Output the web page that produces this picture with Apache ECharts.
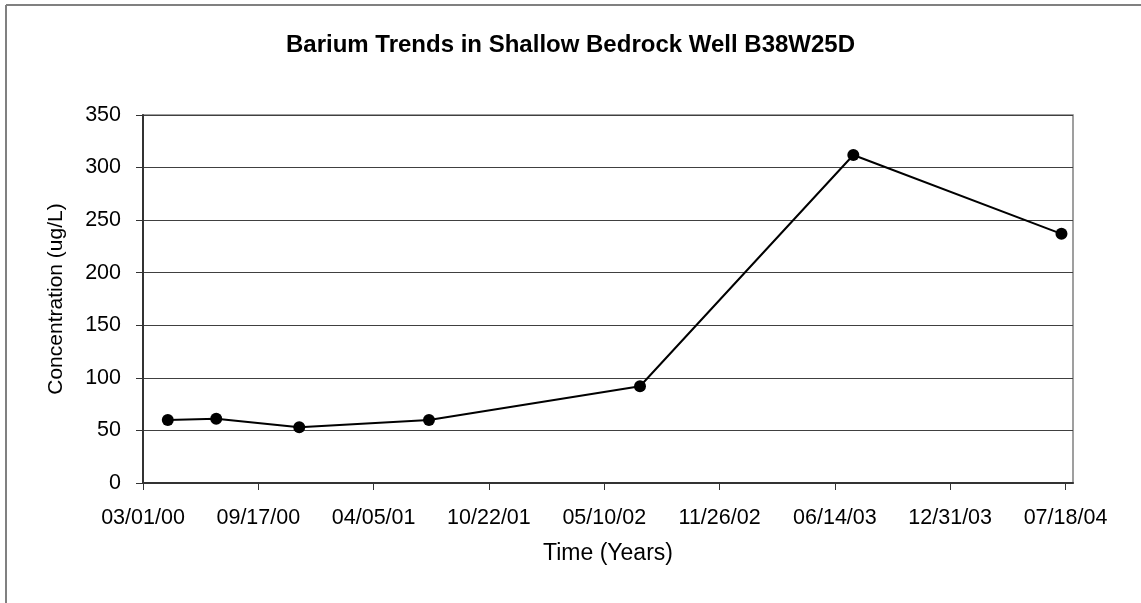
<!DOCTYPE html>
<html>
<head>
<meta charset="utf-8">
<script src="https://cdn.jsdelivr.net/npm/echarts@6/dist/echarts.min.js"></script>
<style>
  html, body { margin: 0; padding: 0; background: #fff; }
  #chart { width: 1141px; height: 603px; }
</style>
</head>
<body>
<div id="chart"></div>
<script>
// 采样日期与钡浓度 (ug/L)
var sampleDates = ['2000-04-13', '2000-07-06', '2000-11-27', '2001-07-10', '2002-07-11', '2003-07-16', '2004-07-11'];
var bariumValues = [60, 61, 53, 60, 92, 312, 237];
// x轴刻度标签（每200天一个）
var xTickLabels = ['03/01/00', '09/17/00', '04/05/01', '10/22/01', '05/10/02', '11/26/02', '06/14/03', '12/31/03', '07/18/04'];
var yMax = 350, yStep = 50;

var DAY = 86400000;
var startMs = Date.UTC(2000, 2, 1);
function toDays(s) {
    var p = s.split('-');
    return Math.round((Date.UTC(+p[0], +p[1] - 1, +p[2]) - startMs) / DAY);
}
var tickStep = 200;
var tickDays = xTickLabels.map(function (l, i) { return i * tickStep; });
var seriesData = sampleDates.map(function (d, i) { return [toDays(d), bariumValues[i]]; });

var font = '"Liberation Sans", Arial, sans-serif';
var dom = document.getElementById('chart');
var myChart = echarts.init(dom);
myChart.setOption({
    animation: false,
    backgroundColor: '#fff',
    title: {
        text: 'Barium Trends in Shallow Bedrock Well B38W25D',
        left: 'center',
        top: 28,
        textStyle: { fontFamily: font, fontSize: 24, fontWeight: 'bold', color: '#000' }
    },
    graphic: [
        { type: 'line', shape: { x1: 6, y1: 5, x2: 1141, y2: 5 }, style: { stroke: '#808080', lineWidth: 2 } },
        { type: 'line', shape: { x1: 6, y1: 5, x2: 6, y2: 603 }, style: { stroke: '#808080', lineWidth: 2 } }
    ],
    grid: {
        left: 143, right: 68, top: 115, bottom: 120,
        show: true,
        borderColor: '#808080',
        borderWidth: 1.5
    },
    xAxis: {
        type: 'value',
        min: 0,
        max: 1613,
        interval: tickStep,
        name: 'Time (Years)',
        nameLocation: 'middle',
        nameGap: 59,
        nameTextStyle: { fontFamily: font, fontSize: 23, color: '#000' },
        axisLine: { show: true, lineStyle: { color: '#333', width: 2 } },
        axisTick: { show: true, inside: false, length: 7, lineStyle: { color: '#333', width: 1 }, customValues: tickDays },
        axisLabel: {
            customValues: tickDays,
            margin: 24,
            fontFamily: font, fontSize: 21.5, color: '#000',
            formatter: function (v) { return xTickLabels[Math.round(v / tickStep)] || ''; }
        },
        splitLine: { show: false }
    },
    yAxis: {
        type: 'value',
        min: 0,
        max: yMax,
        interval: yStep,
        name: 'Concentration (ug/L)',
        nameLocation: 'middle',
        nameGap: 76,
        nameTextStyle: { fontFamily: font, fontSize: 21, color: '#000' },
        axisLine: { show: true, lineStyle: { color: '#333', width: 2 } },
        axisTick: { show: true, inside: false, length: 7, lineStyle: { color: '#333', width: 1 } },
        axisLabel: { margin: 22, fontFamily: font, fontSize: 21.5, color: '#000' },
        splitLine: { show: true, lineStyle: { color: '#404040', width: 1 } }
    },
    series: [{
        name: 'Barium',
        type: 'line',
        data: seriesData,
        symbol: 'circle',
        symbolSize: 12,
        itemStyle: { color: '#000' },
        lineStyle: { color: '#000', width: 2 }
    }]
});
window.addEventListener('resize', function () {
    myChart.resize();
});
</script>
</body>
</html>
